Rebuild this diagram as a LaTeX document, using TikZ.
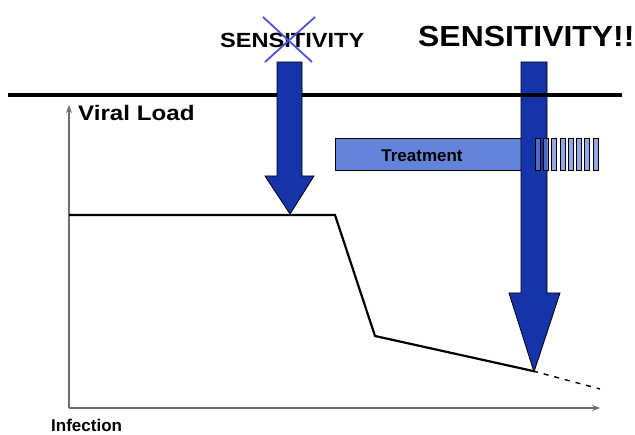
\documentclass[tikz,border=0pt]{standalone}
\usepackage{fontspec}
\setmainfont{Liberation Sans}
\usepackage{tikz}
\usetikzlibrary{arrows.meta}
\definecolor{arrowblue}{RGB}{22,52,170}
\definecolor{treatblue}{RGB}{100,132,218}
\definecolor{crossblue}{RGB}{80,80,220}
\definecolor{axisgray}{RGB}{110,110,110}
\tikzstyle{label} = [inner sep=0pt, anchor=base west, font=\bfseries]
\tikzstyle{bigarrow} = [draw=black, line width=0.8pt, fill=arrowblue]
\tikzstyle{curve} = [line width=2.2pt, line join=miter]
\tikzstyle{axis} = [draw=axisgray, line width=1.4pt, -{Stealth[length=8pt,width=6pt,fill=black]}]
\tikzstyle{stripe} = [draw=black, line width=0.7pt, fill=treatblue, fill opacity=0.7]

\begin{document}
\begin{tikzpicture}[x=1pt, y=-1pt]
\useasboundingbox (0,0) rectangle (635,435);

% Labels
\node (sens) [label, font=\bfseries\fontsize{20.5}{20}\selectfont] at (220,47.5) {\scalebox{1.15}[1]{SENSITIVITY}};
\node (sensb) [label, font=\bfseries\fontsize{29}{29}\selectfont] at (418,47) {\scalebox{1.1}[1]{SENSITIVITY!!}};
\node (viral) [label, font=\bfseries\fontsize{21}{21}\selectfont] at (78,121) {\scalebox{1.15}[1]{Viral Load}};
\node (infect) [label, font=\bfseries\fontsize{17}{17}\selectfont] at (51,432) {Infection};

% Axes
\coordinate (origin) at (69,408);
\coordinate (ytop) at (69,105);
\coordinate (xend) at (600,408);
\draw [axis] (origin) -- (ytop);
\draw [axis] (origin) -- (xend);

% Treatment bar
\node (treat) [draw=black, line width=0.7pt, fill=treatblue, minimum width=195pt, minimum height=32pt, anchor=north west, inner sep=0pt] at (335,138) {};
\node [label, anchor=base, font=\bfseries\fontsize{17}{17}\selectfont] at (422,162) {Treatment};

% Viral load curve
\coordinate (p0) at (69,215);
\coordinate (p1) at (335,215);
\coordinate (p2) at (375,336);
\coordinate (p3) at (533,371);
\coordinate (p4) at (600,389);
\draw [curve] (p0) -- (p1) -- (p2) -- (p3);
\draw [line width=1.4pt, dash pattern=on 5pt off 6pt] (p3) -- (p4);

% Second arrow (under the rule)
\draw [bigarrow] (521,62) -- (547,62) -- (547,293) -- (560,293) -- (534,372) -- (509,293) -- (521,293) -- cycle;

% Top rule
\coordinate (ruleL) at (8,95);
\coordinate (ruleR) at (622,95);
\draw [line width=3.2pt] (ruleL) -- (ruleR);

% First arrow (over the rule)
\draw [bigarrow] (277,62) -- (302,62) -- (302,176) -- (314,176) -- (290,214) -- (265,176) -- (277,176) -- cycle;

% Treatment stripes
\foreach \i in {0,...,7} {
  \draw [stripe] ({535+\i*8.3},138) rectangle ({540+\i*8.3},170);
}

% Crossed out
\draw [crossblue, line width=1.8pt] (263,17) -- (312,62);
\draw [crossblue, line width=1.8pt] (315,17) -- (265,62);

\end{tikzpicture}
\end{document}
